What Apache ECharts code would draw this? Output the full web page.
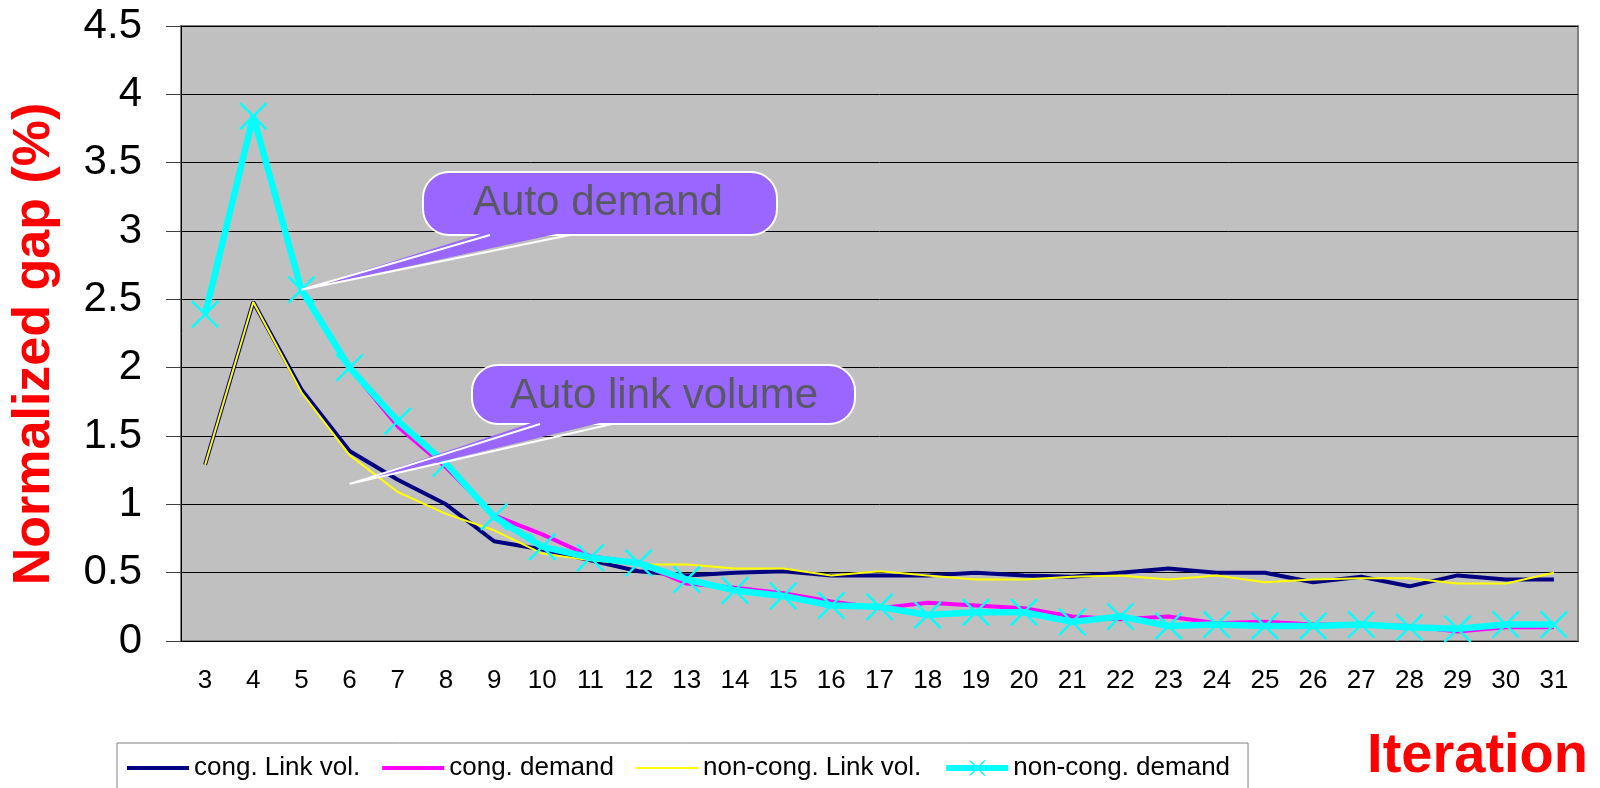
<!DOCTYPE html>
<html>
<head>
<meta charset="utf-8">
<title>Normalized gap</title>
<script src="https://cdn.jsdelivr.net/npm/echarts@6/dist/echarts.min.js"></script>
<style>
  html, body { margin: 0; padding: 0; background: #fff; }
  #main { width: 1600px; height: 788px; }
</style>
</head>
<body>
<div id="main"></div>
<script>
// iterations
const iterations = ['3', '4', '5', '6', '7', '8', '9', '10', '11', '12', '13', '14', '15', '16', '17',
  '18', '19', '20', '21', '22', '23', '24', '25', '26', '27', '28', '29', '30', '31']

// normalized gap (%) per series
const congLinkVol = [1.29, 2.48, 1.84, 1.39, 1.18, 1.00, 0.73, 0.67, 0.59, 0.51, 0.48, 0.50, 0.51, 0.48, 0.48,
  0.48, 0.50, 0.48, 0.47, 0.50, 0.53, 0.50, 0.50, 0.43, 0.47, 0.40, 0.48, 0.45, 0.45]
const congDemand = [2.39, 3.84, 2.57, 2.00, 1.57, 1.27, 0.92, 0.78, 0.62, 0.57, 0.42, 0.39, 0.35, 0.29, 0.24,
  0.28, 0.26, 0.24, 0.18, 0.16, 0.18, 0.13, 0.14, 0.12, 0.12, 0.11, 0.07, 0.10, 0.10]
const nonCongLinkVol = [1.29, 2.48, 1.82, 1.36, 1.09, 0.93, 0.81, 0.64, 0.59, 0.56, 0.56, 0.53, 0.53, 0.48, 0.51,
  0.48, 0.45, 0.45, 0.47, 0.48, 0.45, 0.48, 0.43, 0.45, 0.46, 0.46, 0.42, 0.42, 0.50]
const nonCongDemand = [2.39, 3.84, 2.57, 2.00, 1.61, 1.30, 0.91, 0.69, 0.61, 0.57, 0.45, 0.37, 0.33, 0.26, 0.25,
  0.19, 0.21, 0.21, 0.14, 0.18, 0.11, 0.12, 0.11, 0.11, 0.12, 0.10, 0.09, 0.12, 0.12]

const seriesNames = ['cong. Link vol.', 'cong. demand', 'non-cong. Link vol.', 'non-cong. demand']

// callout targets: [category, value]
const demandNote = { text: 'Auto demand', at: ['5', 2.57] }
const linkNote = { text: 'Auto link volume', at: ['6', 1.15] }

const FONT = '"Liberation Sans", Arial, sans-serif'
const CROSS = 'path://M0,3 L3,0 L50,47 L47,50 Z M47,0 L50,3 L3,50 L0,47 Z'
// legend line icons (the extra moves keep the 62x20 box so the bar stays thin)
const BAR4 = 'path://M0,0 M62,20 M0,8 L62,8 L62,12 L0,12 Z'
const BAR2 = 'path://M0,0 M62,20 M0,9 L62,9 L62,11 L0,11 Z'

const chart = echarts.init(document.getElementById('main'))

chart.setOption({
  animation: false,
  backgroundColor: '#fff',
  grid: {
    left: 181,
    right: 22,
    top: 26,
    bottom: 147,
    show: true,
    backgroundColor: '#C0C0C0',
    borderColor: '#808080',
    borderWidth: 2
  },
  legend: {
    left: 117,
    top: 743,
    padding: [12, 18, 40, 10],
    borderColor: '#808080',
    borderWidth: 1,
    itemWidth: 62,
    itemHeight: 20,
    itemGap: 22,
    textStyle: { color: '#000', fontSize: 26, fontFamily: FONT },
    data: [
      { name: seriesNames[0], icon: BAR4 },
      { name: seriesNames[1], icon: BAR4 },
      { name: seriesNames[2], icon: BAR2 },
      { name: seriesNames[3], lineStyle: { width: 6 } }
    ]
  },
  xAxis: {
    type: 'category',
    data: iterations,
    boundaryGap: true,
    axisLine: { lineStyle: { color: '#000', width: 1 } },
    axisTick: { length: 9, lineStyle: { color: '#404040' } },
    axisLabel: { color: '#000', fontSize: 26, fontFamily: FONT, margin: 27 },
    splitLine: { show: false }
  },
  yAxis: {
    type: 'value',
    min: 0,
    max: 4.5,
    interval: 0.5,
    axisLine: { show: true, lineStyle: { color: '#000', width: 1 } },
    axisTick: { show: true, length: 15, lineStyle: { color: '#404040' } },
    axisLabel: { color: '#000', fontSize: 42, fontFamily: FONT, margin: 39 },
    splitLine: { lineStyle: { color: '#000', width: 1 } }
  },
  series: [
    {
      name: seriesNames[0],
      type: 'line',
      data: congLinkVol,
      symbol: 'none',
      lineStyle: { color: '#000080', width: 4 },
      itemStyle: { color: '#000080' }
    },
    {
      name: seriesNames[1],
      type: 'line',
      data: congDemand,
      symbol: 'none',
      lineStyle: { color: '#FF00FF', width: 4 },
      itemStyle: { color: '#FF00FF' }
    },
    {
      name: seriesNames[2],
      type: 'line',
      data: nonCongLinkVol,
      symbol: 'none',
      lineStyle: { color: '#FFFF00', width: 2 },
      itemStyle: { color: '#FFFF00' }
    },
    {
      name: seriesNames[3],
      type: 'line',
      data: nonCongDemand,
      symbol: CROSS,
      symbolSize: 28,
      showAllSymbol: true,
      lineStyle: { color: '#00FFFF', width: 6.5 },
      itemStyle: { color: '#00FFFF' }
    }
  ]
})

// 标注气泡 (callout bubble with a pointed tail)
function callout(note, box, baseL, baseR, textPos) {
  const tip = chart.convertToPixel({ gridIndex: 0 }, note.at)
  const bottom = box.y + box.height
  return [
    {
      type: 'rect',
      z: 100,
      shape: { x: box.x, y: box.y, width: box.width, height: box.height, r: 26 },
      style: { fill: '#9966FF', stroke: '#fff', lineWidth: 2 }
    },
    {
      type: 'polygon',
      z: 101,
      shape: { points: [[baseL, bottom - 4], [tip[0], tip[1]], [baseR, bottom - 4]] },
      style: { fill: '#9966FF' }
    },
    {
      type: 'polyline',
      z: 102,
      shape: { points: [[baseL, bottom], [tip[0], tip[1]], [baseR, bottom]] },
      style: { fill: null, stroke: '#fff', lineWidth: 2 }
    },
    {
      type: 'text',
      z: 103,
      x: textPos[0],
      y: textPos[1],
      style: {
        text: note.text,
        fill: '#595966',
        font: '42px ' + FONT,
        textAlign: 'center',
        textVerticalAlign: 'middle'
      }
    }
  ]
}

chart.setOption({
  graphic: [
    ...callout(demandNote, { x: 423, y: 172, width: 354, height: 63 }, 490, 570, [598, 203]),
    ...callout(linkNote, { x: 472, y: 365, width: 383, height: 59 }, 540, 612, [664, 396]),
    {
      type: 'text',
      x: 35,
      y: 344,
      rotation: Math.PI / 2,
      style: {
        text: 'Normalized gap (%)',
        fill: '#FF0000',
        font: 'bold 52px ' + FONT,
        textAlign: 'center',
        textVerticalAlign: 'middle'
      }
    },
    {
      type: 'text',
      x: 1588,
      y: 757,
      style: {
        text: 'Iteration',
        fill: '#FF0000',
        font: 'bold 56px ' + FONT,
        textAlign: 'right',
        textVerticalAlign: 'middle'
      }
    }
  ]
})
</script>
</body>
</html>
